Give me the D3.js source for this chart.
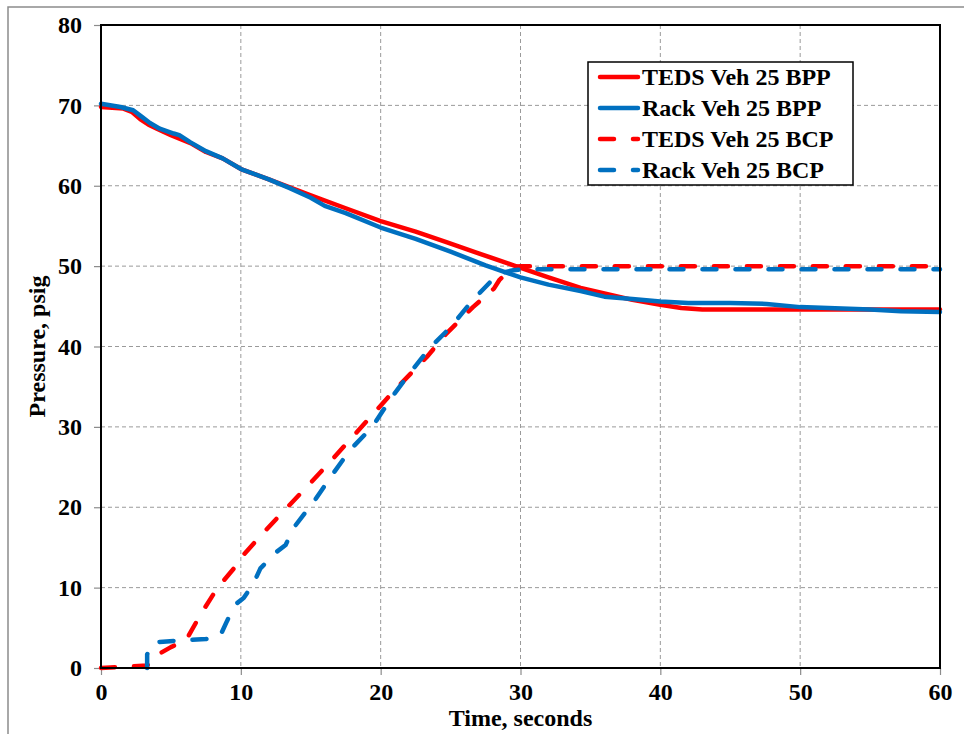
<!DOCTYPE html>
<html>
<head>
<meta charset="utf-8">
<script src="https://cdn.jsdelivr.net/npm/d3@7"></script>
<style>
  html, body { margin: 0; padding: 0; background: #fff; }
  svg text { font-family: "Liberation Serif", "Times New Roman", serif; font-weight: bold; fill: #000; }
</style>
</head>
<body>
<svg id="chart" width="964" height="734"></svg>
<script>
// ---- Data ----
const xTicks = [0, 10, 20, 30, 40, 50, 60];
const yTicks = [0, 10, 20, 30, 40, 50, 60, 70, 80];
const xTitle = "Time, seconds";
const yTitle = "Pressure, psig";

const seriesNames = ["TEDS Veh 25 BPP", "Rack Veh 25 BPP", "TEDS Veh 25 BCP", "Rack Veh 25 BCP"];
const seriesColors = ["#ff0000", "#0070c0", "#ff0000", "#0070c0"];
const seriesDashed = [false, false, true, true];

const tedsBppT = [0, 1.6, 2.2, 2.8, 3.4, 4, 5, 6.4, 7.5, 8.7, 10.1, 12, 13.5, 15, 17.5, 20, 22.5, 24.7, 27, 29.5, 32, 34.3, 36, 38, 40, 41.5, 43, 46, 50, 55, 60];
const tedsBppV = [69.8, 69.6, 69.2, 68.3, 67.6, 67.1, 66.3, 65.3, 64.2, 63.4, 62.0, 60.8, 59.8, 58.8, 57.2, 55.6, 54.3, 53.0, 51.6, 50.1, 48.6, 47.3, 46.6, 45.8, 45.2, 44.8, 44.6, 44.6, 44.6, 44.6, 44.6];

const rackBppT = [0, 1.4, 2.3, 2.9, 3.5, 4.2, 5.2, 5.6, 6.4, 7.5, 8.7, 10.1, 12, 13.5, 15, 16, 17.5, 20, 22.5, 25, 27.5, 30, 32, 34.3, 36, 38, 40, 42, 45, 47.6, 50, 52, 55, 57.2, 60];
const rackBppV = [70.2, 69.8, 69.4, 68.6, 67.8, 67.1, 66.5, 66.3, 65.4, 64.3, 63.4, 62.0, 60.8, 59.7, 58.5, 57.5, 56.6, 54.8, 53.4, 51.8, 50.1, 48.6, 47.7, 46.9, 46.2, 45.9, 45.6, 45.4, 45.4, 45.3, 44.9, 44.8, 44.6, 44.4, 44.3];

const tedsBcpT = [0, 3.3, 4, 5, 6.1, 7.1, 8.3, 9.7, 10.2, 11.6, 13.0, 14.7, 16.2, 17.6, 19.2, 20.8, 23.3, 24.7, 26.6, 28.1, 28.5, 29.5, 30, 60];
const tedsBcpV = [0, 0.3, 1.6, 2.6, 3.5, 6.6, 9.9, 12.8, 14.1, 16.8, 19.4, 22.5, 25.3, 28.0, 31.1, 34.2, 38.7, 41.6, 44.9, 47.2, 48.3, 49.9, 50.0, 50.0];

const rackBcpT = [3.3, 3.3, 3.8, 5.5, 7.5, 8.5, 9.0, 9.6, 10.2, 10.9, 11.4, 12.6, 13.2, 13.8, 15.3, 16.6, 17.8, 19.4, 20.8, 22, 23.5, 25, 26.6, 28.1, 28.5, 29.5, 30.5, 60];
const rackBcpV = [0, 1.7, 3.2, 3.4, 3.6, 3.9, 5.8, 7.9, 8.7, 10.5, 12.4, 14.5, 15.3, 17.5, 20.9, 24.2, 27.1, 30.0, 33.7, 36.5, 39.8, 42.4, 45.8, 48.5, 49.1, 49.5, 49.6, 49.6];

const seriesT = [tedsBppT, rackBppT, tedsBcpT, rackBcpT];
const seriesV = [tedsBppV, rackBppV, tedsBcpV, rackBcpV];

// ---- Layout ----
const svg = d3.select("#chart");
const plot = { left: 101, right: 940, top: 25, bottom: 668 };
const x = d3.scaleLinear().domain([0, 60]).range([plot.left, plot.right]);
const y = d3.scaleLinear().domain([0, 80]).range([plot.bottom, plot.top]);

// outer border
svg.append("path").attr("d", "M8,740 L8,7 L970,7")
  .attr("fill", "none").attr("stroke", "#8c8c8c").attr("stroke-width", 1.5);

// gridlines
svg.append("g").selectAll("line").data(xTicks.filter(d => d > 0 && d < 60)).join("line")
  .attr("x1", d => x(d)).attr("x2", d => x(d)).attr("y1", plot.top).attr("y2", plot.bottom)
  .attr("stroke", "#9a9a9a").attr("stroke-width", 1).attr("stroke-dasharray", "4,3");
svg.append("g").selectAll("line").data(yTicks.filter(d => d > 0 && d < 80)).join("line")
  .attr("x1", plot.left).attr("x2", plot.right).attr("y1", d => y(d)).attr("y2", d => y(d))
  .attr("stroke", "#9a9a9a").attr("stroke-width", 1).attr("stroke-dasharray", "4,3");

// axes
const xAxis = d3.axisBottom(x).tickValues(xTicks).tickSize(7).tickPadding(6).tickFormat(d3.format("d"));
const yAxis = d3.axisLeft(y).tickValues(yTicks).tickSize(7).tickPadding(12).tickFormat(d3.format("d"));
const gx = svg.append("g").attr("transform", `translate(0,${plot.bottom})`).call(xAxis);
const gy = svg.append("g").attr("transform", `translate(${plot.left},0)`).call(yAxis);
[gx, gy].forEach(g => {
  g.select(".domain").remove();
  g.selectAll(".tick line").attr("stroke", "#8c8c8c").attr("stroke-width", 1.2);
  g.selectAll(".tick text").style("font-family", '"Liberation Serif", serif')
    .style("font-weight", "bold").style("font-size", "24px").attr("fill", "#000");
});
gx.selectAll(".tick text").attr("dy", "0.78em");

// series
const line = d3.line().x(d => x(d[0])).y(d => y(d[1]));
const order = [0, 1, 2, 3];
order.forEach(i => {
  const pts = seriesT[i].map((t, k) => [t, seriesV[i][k]]);
  svg.append("path").datum(pts)
    .attr("d", line)
    .attr("fill", "none")
    .attr("stroke", seriesColors[i])
    .attr("stroke-width", 4.5)
    .attr("stroke-linejoin", "round")
    .attr("stroke-linecap", "round")
    .attr("stroke-dasharray", seriesDashed[i] ? "14,19" : null);
});

// plot frame
svg.append("rect").attr("x", plot.left).attr("y", plot.top)
  .attr("width", plot.right - plot.left).attr("height", plot.bottom - plot.top)
  .attr("fill", "none").attr("stroke", "#000").attr("stroke-width", 2);

// axis titles
svg.append("text").attr("x", (plot.left + plot.right) / 2).attr("y", 726)
  .attr("text-anchor", "middle").style("font-size", "24px").text(xTitle);
svg.append("text").attr("transform", `translate(45,${(plot.top + plot.bottom) / 2}) rotate(-90)`)
  .attr("text-anchor", "middle").style("font-size", "24px").text(yTitle);

// legend
const lg = svg.append("g");
lg.append("rect").attr("x", 588).attr("y", 62).attr("width", 265).attr("height", 123)
  .attr("fill", "#fff").attr("stroke", "#000").attr("stroke-width", 1.5);
const rowY = [77, 108, 139, 170];
seriesNames.forEach((name, i) => {
  lg.append("line").attr("x1", 600).attr("x2", 638).attr("y1", rowY[i]).attr("y2", rowY[i])
    .attr("stroke", seriesColors[i]).attr("stroke-width", 4.5).attr("stroke-linecap", "round")
    .attr("stroke-dasharray", seriesDashed[i] ? "14,19" : null);
  lg.append("text").attr("x", 642).attr("y", rowY[i] + 8).style("font-size", "24px").text(name);
});
</script>
</body>
</html>
